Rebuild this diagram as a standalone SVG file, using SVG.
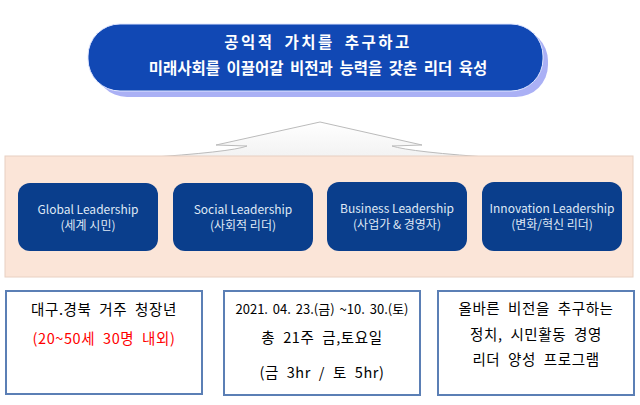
<svg xmlns="http://www.w3.org/2000/svg" width="640" height="405" viewBox="0 0 640 405">
<defs>
<style>
.kr{font-family:"Noto Sans CJK KR","Liberation Sans",sans-serif}
.lead rect{fill:#0a3e8c}
.lead text{fill:#dfe8f5;font-family:"Noto Sans CJK KR","Liberation Sans",sans-serif;font-size:12px;text-anchor:middle}
.info rect{fill:#fff;stroke:#5b7fb5;stroke-width:2}
.info text{fill:#000;font-family:"Noto Sans CJK KR","Liberation Sans",sans-serif;font-size:14.5px;text-anchor:middle;letter-spacing:0.6px;word-spacing:4px}
</style>
<linearGradient id="ag" x1="0" y1="0" x2="0" y2="1"><stop offset="0" stop-color="#ffffff"/><stop offset="1" stop-color="#f2f2f2"/></linearGradient>
</defs>
<rect width="640" height="405" fill="#fff"/>
<g id="goal">
<rect x="95" y="29" width="453" height="68" rx="32" fill="#aab0f5"/>
<rect x="88" y="24" width="455" height="67" rx="32" fill="#1148b4" stroke="#e0e6ff" stroke-width="1"/>
<text x="318" y="48" class="kr" font-size="15.5" font-weight="bold" fill="#fff" text-anchor="middle" letter-spacing="2.5" word-spacing="4">공익적 가치를 추구하고</text>
<text x="318" y="74" class="kr" font-size="15.5" font-weight="bold" fill="#fff" text-anchor="middle" word-spacing="3">미래사회를 이끌어갈 비전과 능력을 갖춘 리더 육성</text>
</g>
<g id="connectors">
<path d="M320,122 L422,145 L392,146 Q410,152 500,158 L140,158 Q232,152 247,146 L216,145 Z" fill="url(#ag)" stroke="#bbb" stroke-width="1"/>
</g>
<g id="band"><rect x="5" y="156" width="628" height="121" fill="#fbe5d8" stroke="#e8d0c2"/></g>
<g id="global" class="lead"><rect x="18" y="183" width="140" height="68" rx="12"/><text x="88" y="214">Global Leadership</text><text x="88" y="230">(세계 시민)</text></g>
<g id="social" class="lead"><rect x="173" y="183" width="140" height="68" rx="12"/><text x="243" y="214">Social Leadership</text><text x="243" y="230">(사회적 리더)</text></g>
<g id="business" class="lead"><rect x="327" y="182" width="140" height="69" rx="12"/><text x="397" y="213">Business Leadership</text><text x="397" y="229">(사업가 &amp; 경영자)</text></g>
<g id="innovation" class="lead"><rect x="482" y="182" width="140" height="69" rx="12"/><text x="552" y="213">Innovation Leadership</text><text x="552" y="229">(변화/혁신 리더)</text></g>
<g id="target" class="info"><rect x="6" y="291" width="196" height="103"/><text x="104" y="315">대구.경북 거주 청장년</text><text x="104" y="344" style="fill:#ff0000">(20~50세 30명 내외)</text></g>
<g id="schedule" class="info"><rect x="224" y="291" width="196" height="104"/><text x="322" y="314" style="font-size:13px;letter-spacing:0;word-spacing:2px">2021. 04. 23.(금) ~10. 30.(토)</text><text x="322" y="343">총 21주 금,토요일</text><text x="322" y="378">(금 3hr / 토 5hr)</text></g>
<g id="program" class="info"><rect x="438" y="291" width="196" height="104"/><text x="536" y="314">올바른 비전을 추구하는</text><text x="536" y="340">정치, 시민활동 경영</text><text x="536" y="365">리더 양성 프로그램</text></g>
</svg>
